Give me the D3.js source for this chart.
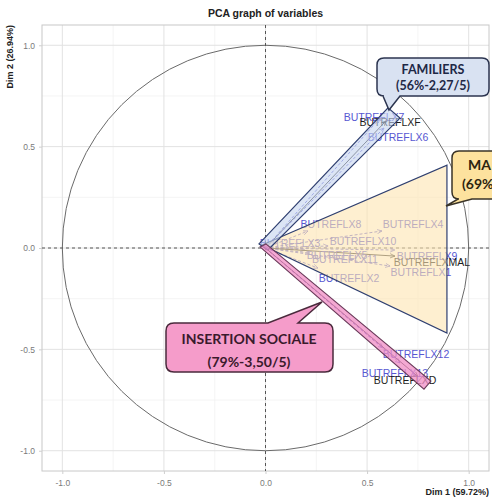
<!DOCTYPE html>
<html><head><meta charset="utf-8">
<script src="https://cdn.jsdelivr.net/npm/d3@7"></script>
<style>body{margin:0;background:#fff}svg{display:block}</style>
</head><body>
<svg id="c" width="492" height="499"></svg>
<script>
// ---- data ----
const variables = ["BUTREFLX7","BUTREFLXF","BUTREFLX6","BUTREFLX8","BUTREFLX4","BUTREFLX10","BUTREFLX3","BUTREFLX5","BUTREFLX11","BUTREFLX9","BUTREFLXMAL","BUTREFLX1","BUTREFLX2","BUTREFLX12","BUTREFLX13","BUTREFLXD"];
// arrow tips (Dim 1, Dim 2)
const dim1 = [0.563,0.593,0.583,0.209,0.573,0.308,0.010,0.194,0.219,0.637,0.637,0.613,0.258,0.578,0.662,0.750];
const dim2 = [0.641,0.627,0.592,0.084,0.084,0.010,0.012,-0.010,-0.025,-0.010,-0.040,-0.089,-0.099,-0.493,-0.567,-0.634];
// label centres (Dim 1, Dim 2)
const labelDim1 = [0.534,0.613,0.652,0.322,0.726,0.480,0.121,0.352,0.391,0.795,0.819,0.765,0.411,0.741,0.637,0.687];
const labelDim2 = [0.646,0.622,0.548,0.118,0.118,0.035,0.025,-0.035,-0.054,-0.039,-0.069,-0.118,-0.148,-0.523,-0.617,-0.651];
const varType = ["sup","active","sup","sup","sup","sup","sup","sup","sup","sup","active","sup","sup","sup","sup","active"];
const xTicks = [-1.0,-0.5,0.0,0.5,1.0];
const yTicks = [-1.0,-0.5,0.0,0.5,1.0];
const minorTicks = [-0.75,-0.25,0.25,0.75];
const chartTitle = "PCA graph of variables";
const xTitle = "Dim 1 (59.72%)";
const yTitle = "Dim 2 (26.94%)";
// hand-drawn annotation groups (data coordinates)
const blueBand = [[-0.032,0.020],[0.603,0.691],[0.662,0.641],[0.012,-0.010]];
const orangeTri = [[-0.017,0.015],[0.893,0.409],[0.893,-0.419]];
const pinkBand = [[-0.027,0.005],[0.002,0.020],[0.814,-0.656],[0.780,-0.696]];
const groupLine1 = ["FAMILIERS","MA","INSERTION SOCIALE"];
const groupLine2 = ["(56%-2,27/5)","(69%","(79%-3,50/5)"];

// ---- layout ----
const svg = d3.select("#c");
const x = d3.scaleLinear().domain([-1.1,1.1]).range([42,489]);
const y = d3.scaleLinear().domain([-1.1,1.1]).range([471,25]);
const font = "'Liberation Sans', Arial, sans-serif";

// panel
svg.append("rect").attr("x",42).attr("y",25).attr("width",447).attr("height",446).attr("fill","#fff");
const g = svg.append("g");
g.selectAll("line.minx").data(minorTicks).join("line")
  .attr("x1",d=>x(d)).attr("x2",d=>x(d)).attr("y1",25).attr("y2",471)
  .attr("stroke","#f1f1f1").attr("stroke-width",0.8);
g.selectAll("line.miny").data(minorTicks).join("line")
  .attr("y1",d=>y(d)).attr("y2",d=>y(d)).attr("x1",42).attr("x2",489)
  .attr("stroke","#f1f1f1").attr("stroke-width",0.8);
g.selectAll("line.majx").data(xTicks).join("line")
  .attr("x1",d=>x(d)).attr("x2",d=>x(d)).attr("y1",25).attr("y2",471)
  .attr("stroke","#e2e2e2").attr("stroke-width",1);
g.selectAll("line.majy").data(yTicks).join("line")
  .attr("y1",d=>y(d)).attr("y2",d=>y(d)).attr("x1",42).attr("x2",489)
  .attr("stroke","#e2e2e2").attr("stroke-width",1);
svg.append("rect").attr("x",42).attr("y",25).attr("width",447).attr("height",446)
  .attr("fill","none").attr("stroke","#c8c8c8").attr("stroke-width",1);

// axes
const xAxis = d3.axisBottom(x).tickValues(xTicks).tickSize(3).tickPadding(6);
const yAxis = d3.axisLeft(y).tickValues(yTicks).tickSize(3).tickPadding(4);
const gx = svg.append("g").attr("transform","translate(0,471)").call(xAxis);
const gy = svg.append("g").attr("transform","translate(42,0)").call(yAxis);
[gx,gy].forEach(a=>{
  a.select(".domain").remove();
  a.selectAll(".tick line").attr("stroke","#cfcfcf");
  a.selectAll(".tick text").attr("fill","#7a7a7a").style("font-family",font).style("font-size","8.5px")
    .text(d=>d3.format(".1f")(d).replace("\u2212","-"));
});

// circle
svg.append("ellipse").attr("cx",x(0)).attr("cy",y(0))
  .attr("rx",x(1)-x(0)).attr("ry",y(0)-y(1))
  .attr("fill","none").attr("stroke","#6a6a6a").attr("stroke-width",1);

// dashed axes
svg.append("line").attr("x1",42).attr("x2",489).attr("y1",y(0)).attr("y2",y(0))
  .attr("stroke","#555").attr("stroke-width",1).attr("stroke-dasharray","3,3");
svg.append("line").attr("y1",25).attr("y2",471).attr("x1",x(0)).attr("x2",x(0))
  .attr("stroke","#555").attr("stroke-width",1).attr("stroke-dasharray","3,3");

// arrow markers
const defs = svg.append("defs");
[["sup","#5a5ad0"],["active","#222"]].forEach(([k,c])=>{
  defs.append("marker").attr("id","ah-"+k).attr("viewBox","0 0 10 10")
    .attr("refX",9).attr("refY",5).attr("markerWidth",6).attr("markerHeight",6)
    .attr("orient","auto").append("path").attr("d","M0,1 L9,5 L0,9").attr("fill","none")
    .attr("stroke",c).attr("stroke-width",1.3);
});
const vars = variables.map((v,i)=>({name:v,d1:dim1[i],d2:dim2[i],l1:labelDim1[i],l2:labelDim2[i],type:varType[i]}));
svg.append("g").selectAll("line").data(vars).join("line")
  .attr("x1",x(0)).attr("y1",y(0)).attr("x2",d=>x(d.d1)).attr("y2",d=>y(d.d2))
  .attr("stroke",d=>d.type==="sup"?"#5a5ad0":"#222")
  .attr("stroke-width",0.9)
  .attr("stroke-dasharray",d=>d.type==="sup"?"3,2":null)
  .attr("marker-end",d=>`url(#ah-${d.type})`);

svg.append("g").selectAll("text").data(vars).join("text")
  .attr("x",d=>x(d.l1)).attr("y",d=>y(d.l2))
  .attr("dy","0.36em")
  .attr("text-anchor","middle")
  .attr("fill",d=>d.type==="sup"?"#5757d2":"#1e1e1e")
  .style("font-family",font).style("font-size","10.5px")
  .text(d=>d.name);

// overlay shapes (hand annotations)
const line = d3.line().x(d=>x(d[0])).y(d=>y(d[1]));
svg.append("path").attr("d",line(orangeTri)+"Z")
  .attr("fill","#fde4b0").attr("fill-opacity",0.6)
  .attr("stroke","#2f3f70").attr("stroke-width",1.2);
svg.append("path").attr("d",line(blueBand)+"Z")
  .attr("fill","#c5d3ee").attr("fill-opacity",0.6)
  .attr("stroke","#2f3f70").attr("stroke-width",1.2);
svg.append("path").attr("d",line(pinkBand)+"Z")
  .attr("fill","#f08cc4").attr("fill-opacity",0.75)
  .attr("stroke","#6a3a5a").attr("stroke-width",1.1);

// callouts
function callout(x0,y0,x1,y1,r,edge,b0,b1,tx,ty){
  let p = `M${x0+r},${y0}`;
  if(edge==="top") p += `L${b0},${y0}L${tx},${ty}L${b1},${y0}`;
  p += `L${x1-r},${y0}Q${x1},${y0} ${x1},${y0+r}L${x1},${y1-r}Q${x1},${y1} ${x1-r},${y1}`;
  if(edge==="bottom") p += `L${b1},${y1}L${tx},${ty}L${b0},${y1}`;
  p += `L${x0+r},${y1}Q${x0},${y1} ${x0},${y1-r}L${x0},${y0+r}Q${x0},${y0} ${x0+r},${y0}Z`;
  return p;
}
const cfont = "Lato, 'Open Sans', sans-serif";
// FAMILIERS
svg.append("path").attr("d",callout(377,58,489,96,7,"bottom",383,400,389,110))
  .attr("fill","#d9e2f2").attr("stroke","#2c3550").attr("stroke-width",1.5);
svg.append("text").attr("x",433).attr("y",74).attr("text-anchor","middle")
  .attr("fill","#1e2846").style("font-family",cfont).style("font-weight","bold").style("font-size","12.5px")
  .text(groupLine1[0]);
svg.append("text").attr("x",433).attr("y",90).attr("text-anchor","middle")
  .attr("fill","#1e2846").style("font-family",cfont).style("font-weight","bold").style("font-size","12.5px")
  .text(groupLine2[0]);
// MA
svg.append("path").attr("d",callout(452,151,540,199,7,"bottom",458,472,446,206))
  .attr("fill","#fde29e").attr("stroke","#3a3428").attr("stroke-width",1.5);
svg.append("text").attr("x",468).attr("y",170)
  .attr("fill","#2c2410").style("font-family",cfont).style("font-weight","bold").style("font-size","14px")
  .text(groupLine1[1]);
svg.append("text").attr("x",462).attr("y",189)
  .attr("fill","#2c2410").style("font-family",cfont).style("font-weight","bold").style("font-size","14px")
  .text(groupLine2[1]);
// INSERTION SOCIALE
svg.append("path").attr("d",callout(166,323,333,372,8,"top",268,298,322,302))
  .attr("fill","#f59cca").attr("stroke","#4a2a3c").attr("stroke-width",1.5);
svg.append("text").attr("x",249).attr("y",344).attr("text-anchor","middle")
  .attr("fill","#3a1a2c").style("font-family",cfont).style("font-weight","bold").style("font-size","14px")
  .text(groupLine1[2]);
svg.append("text").attr("x",249).attr("y",367).attr("text-anchor","middle")
  .attr("fill","#3a1a2c").style("font-family",cfont).style("font-weight","bold").style("font-size","14px")
  .text(groupLine2[2]);

// titles
svg.append("text").attr("x",265.5).attr("y",17).attr("text-anchor","middle")
  .style("font-family",font).style("font-weight","bold").style("font-size","10.5px").attr("fill","#222")
  .text(chartTitle);
svg.append("text").attr("x",489).attr("y",495).attr("text-anchor","end")
  .style("font-family",font).style("font-weight","bold").style("font-size","9px").attr("fill","#222")
  .text(xTitle);
svg.append("text").attr("transform","translate(13,25) rotate(-90)").attr("text-anchor","end")
  .style("font-family",font).style("font-weight","bold").style("font-size","9px").attr("fill","#222")
  .text(yTitle);
</script>
</body></html>
